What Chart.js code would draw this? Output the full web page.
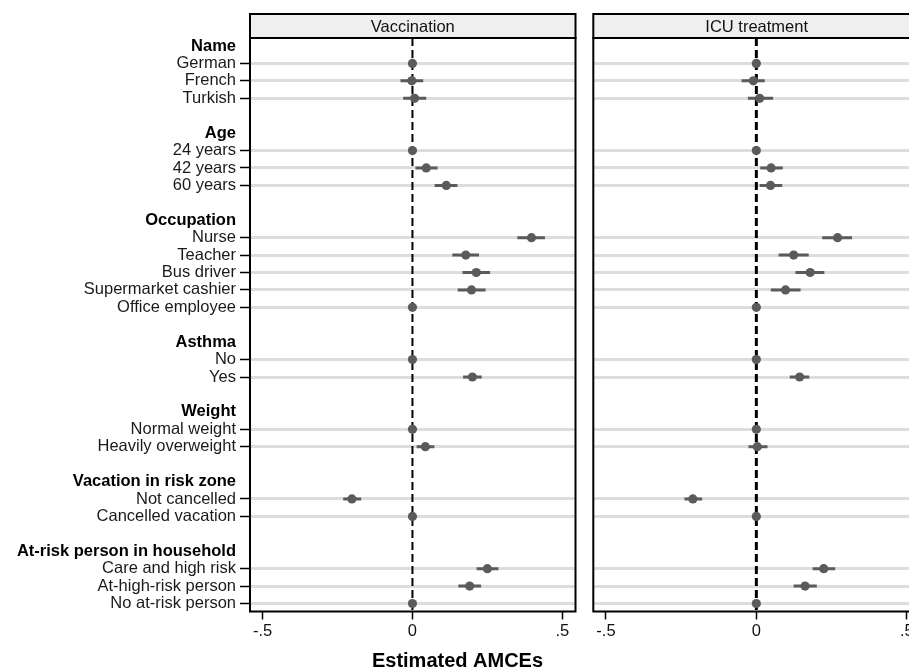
<!DOCTYPE html>
<html><head><meta charset="utf-8">
<script src="https://cdn.jsdelivr.net/npm/chart.js@4.4.1/dist/chart.umd.min.js"></script>
<style>
html,body{margin:0;padding:0;background:#fff;overflow:hidden;width:909px;height:671px;}
#wrap{position:relative;width:909px;height:671px;overflow:hidden;}
#c1{position:absolute;left:0;top:0;}
#c2{position:absolute;left:580px;top:0;}
</style></head><body>
<div id="wrap"><canvas id="c1" width="915" height="671"></canvas><canvas id="c2" width="350" height="671"></canvas></div>
<script>
// ---------- data ----------
const groups = ['Name', 'Age', 'Occupation', 'Asthma', 'Weight', 'Vacation in risk zone', 'At-risk person in household'];
const levels = [
  ['German', 'French', 'Turkish'],
  ['24 years', '42 years', '60 years'],
  ['Nurse', 'Teacher', 'Bus driver', 'Supermarket cashier', 'Office employee'],
  ['No', 'Yes'],
  ['Normal weight', 'Heavily overweight'],
  ['Not cancelled', 'Cancelled vacation'],
  ['Care and high risk', 'At-high-risk person', 'No at-risk person']
];
const vaccEst = [0, -0.002, 0.007, 0, 0.046, 0.113, 0.397, 0.178, 0.213, 0.197, 0, 0, 0.200, 0, 0.043, -0.202, 0, 0.250, 0.191, 0];
const vaccLo  = [null, -0.040, -0.031, null, 0.010, 0.074, 0.350, 0.133, 0.167, 0.151, null, null, 0.169, null, 0.014, -0.231, null, 0.214, 0.153, null];
const vaccHi  = [null, 0.036, 0.046, null, 0.084, 0.150, 0.442, 0.222, 0.259, 0.244, null, null, 0.231, null, 0.073, -0.171, null, 0.287, 0.229, null];
const icuEst  = [0, -0.010, 0.011, 0, 0.049, 0.047, 0.270, 0.124, 0.179, 0.097, 0, 0, 0.144, 0, 0.003, -0.211, 0, 0.224, 0.162, 0];
const icuLo   = [null, -0.049, -0.028, null, 0.013, 0.011, 0.219, 0.074, 0.130, 0.048, null, null, 0.111, null, -0.026, -0.239, null, 0.187, 0.124, null];
const icuHi   = [null, 0.028, 0.056, null, 0.088, 0.086, 0.318, 0.174, 0.226, 0.147, null, null, 0.176, null, 0.037, -0.180, null, 0.262, 0.201, null];
const xTickValues = [-0.5, 0, 0.5];
const xTickLabels = ['-.5', '0', '.5'];
const panelTitles = ['Vaccination', 'ICU treatment'];
const axisTitle = 'Estimated AMCEs';

// ---------- row layout built from the arrays ----------
const rows = [];
const itemRow = [];
groups.forEach((g, gi) => {
  rows.push({label: g, type: 'header'});
  levels[gi].forEach(l => { itemRow.push(rows.length); rows.push({label: l, type: 'item'}); });
  if (gi < groups.length - 1) rows.push({label: '', type: 'blank'});
});
function rowType(c) {
  let v = null;
  if (c && c.tick && c.tick.value !== undefined) v = c.tick.value;
  else if (c && typeof c.index === 'number') v = c.index;
  const r = v === null ? null : rows[Math.round(v)];
  return r ? r.type : 'item';
}

const FAM = "'Liberation Sans', Arial, sans-serif";
Chart.defaults.font.family = FAM;
const DOT = '#5b5b5b';

const panelDecor = {
  id: 'panelDecor',
  beforeDatasetsDraw(chart, args, o) {
    const {ctx, chartArea: a} = chart;
    const zx = chart.scales.x.getPixelForValue(0);
    ctx.save();
    ctx.strokeStyle = '#000';
    ctx.lineWidth = o.zeroWidth;
    ctx.setLineDash([8, 4]);
    ctx.beginPath(); ctx.moveTo(zx, a.top); ctx.lineTo(zx, a.bottom); ctx.stroke();
    ctx.restore();
  },
  afterDraw(chart, args, o) {
    const {ctx, chartArea: a} = chart;
    ctx.save();
    const top = o.stripTop;
    ctx.fillStyle = '#efefef';
    ctx.fillRect(a.left, top, a.right - a.left, a.top - top);
    ctx.lineWidth = 2; ctx.strokeStyle = '#000';
    ctx.strokeRect(a.left, top, a.right - a.left, a.top - top);
    ctx.strokeRect(a.left, a.top, a.right - a.left, a.bottom - a.top);
    ctx.fillStyle = '#111';
    ctx.font = '16.5px ' + FAM;
    ctx.textAlign = 'center'; ctx.textBaseline = 'middle';
    ctx.fillText(o.title, (a.left + a.right) / 2, (top + a.top) / 2 + 1);
    ctx.restore();
  }
};

function makeChart(canvasId, p, est, lo, hi, withLabels) {
  const pts = itemRow.map((r, i) => ({x: est[i], y: r}));
  const ci = [];
  itemRow.forEach((r, i) => {
    if (lo[i] !== null) { ci.push({x: lo[i], y: r}, {x: hi[i], y: r}, {x: null, y: null}); }
  });
  const scales = {
    x: {
      type: 'linear', min: -0.542, max: 0.544,
      afterBuildTicks: s => { s.ticks = xTickValues.map(v => ({value: v})); },
      afterFit: s => { s.height = withLabels ? 39.5 : 59.5; },
      ticks: {callback: (v, i) => xTickLabels[i], font: {size: 16.5}, color: '#111', padding: 2, autoSkip: false, maxRotation: 0},
      grid: {drawOnChartArea: false, drawTicks: true, tickLength: 8, tickColor: '#000', tickWidth: 1.5},
      border: {display: false}
    },
    y: {
      type: 'linear', reverse: true, min: -0.46, max: rows.length - 1 + 0.46,
      afterBuildTicks: s => { s.ticks = rows.map((r, i) => ({value: i})); },
      afterFit: s => { s.width = withLabels ? 250 : 0; },
      ticks: {
        display: withLabels, autoSkip: false, padding: 4,
        callback: v => rows[Math.round(v)].label,
        font: c => ({size: 16.5, weight: rowType(c) === 'header' ? 'bold' : 'normal', family: FAM}),
        color: c => rowType(c) === 'header' ? '#000' : '#1a1a1a'
      },
      grid: {
        drawTicks: withLabels, tickLength: 10, tickWidth: 1.5,
        color: c => rowType(c) === 'item' ? '#dddddd' : 'rgba(0,0,0,0)',
        tickColor: c => rowType(c) === 'item' ? '#000' : 'rgba(0,0,0,0)',
        lineWidth: 3
      },
      border: {display: false}
    }
  };
  if (withLabels) {
    // empty spacer axis on the right so the bottom title centres on the whole figure
    scales.spacer = {
      type: 'linear', axis: 'y', position: 'right', min: 0, max: 1,
      ticks: {display: false}, grid: {display: false}, border: {display: false},
      afterFit: s => { s.width = 915 - 575.5; }
    };
  }
  return new Chart(document.getElementById(canvasId), {
    type: 'scatter',
    data: {datasets: [
      {data: pts, pointRadius: 4.6, pointBackgroundColor: DOT, pointBorderWidth: 0, pointHoverRadius: 4.6},
      {data: ci, showLine: true, pointRadius: 0, borderColor: DOT, borderWidth: 3, spanGaps: false, borderCapStyle: 'butt'}
    ]},
    options: {
      responsive: false, animation: false, events: [],
      layout: {padding: withLabels ? {left: 0, top: 38, right: 0, bottom: 0} : {left: 13.3, top: 38, right: 10, bottom: 0}},
      plugins: {
        legend: {display: false}, tooltip: {enabled: false},
        title: withLabels ? {display: true, text: axisTitle, position: 'bottom', color: '#000', font: {size: 20, weight: 'bold', lineHeight: 1}, padding: {top: 0, bottom: 0}} : {display: false},
        panelDecor: {title: panelTitles[p], stripTop: 14, zeroWidth: withLabels ? 2 : 3}
      },
      scales: scales
    },
    plugins: [panelDecor]
  });
}

makeChart('c1', 0, vaccEst, vaccLo, vaccHi, true);
makeChart('c2', 1, icuEst, icuLo, icuHi, false);
</script>
</body></html>
